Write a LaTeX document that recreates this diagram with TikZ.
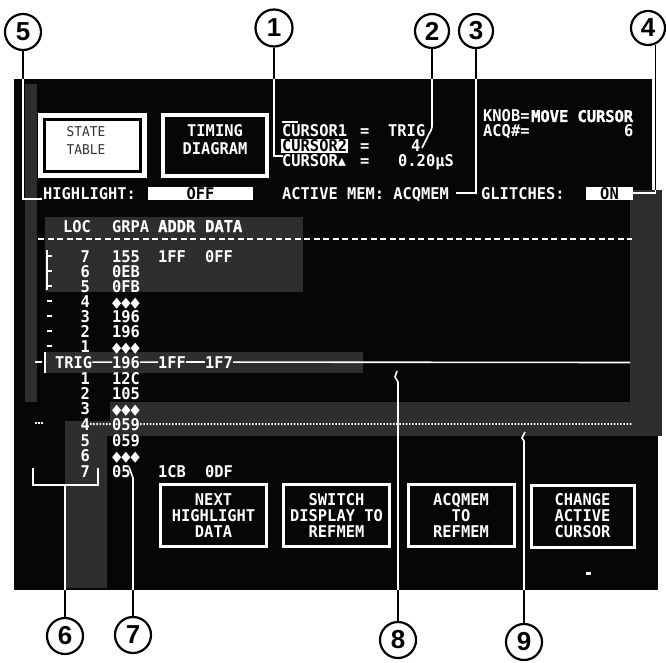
\documentclass[tikz,border=0pt]{standalone}
\usepackage{fontspec}
\newfontfamily\crt[FakeStretch=0.95]{DejaVu Sans Mono}
\newfontfamily\crtbb[FakeStretch=0.95,FakeBold=1.5]{DejaVu Sans Mono}
\newfontfamily\symf{DejaVu Sans}
\newfontfamily\calf{Liberation Sans}
\definecolor{scr}{HTML}{060606}
\definecolor{gry}{HTML}{2E2E2E}
\newcommand\dia{\scalebox{0.74}[0.9]{\symf\mdseries ◆◆◆}}
\newcommand{\calloutpaths}[1]{%
  \draw[#1] (c1.south) |- (p1);
  \draw[#1] (c2.south) -- (q2a) to[out=-100,in=70] (q2b) -- (p2);
  \draw[#1] (c3.south) |- (p3);
  \draw[#1] (c4.-66) |- (p4);
  \draw[#1] (c5.south) |- (p5);
  \draw[#1] (c6.north) -- (p6);
  \draw[#1] (c7.north) -- (q7) -- (p7);
  \draw[#1] (c8.north) -- (q8) -- (q8b) -- (p8);
  \draw[#1] (c9.north) -- (q9) -- (q9b) -- (p9);
}
\begin{document}
\begin{tikzpicture}[x=1pt,y=-1pt,
  crtf/.style={font={\crt\bfseries\fontsize{16.2}{16}\selectfont}},
  crt/.style={crtf, text=white, inner sep=0pt, anchor=base west},
  crtr/.style={crt, anchor=base east},
  hib/.style={font={\crtbb\bfseries\fontsize{16.2}{16}\selectfont}},
  btn/.style={draw=white, line width=3pt, fill=scr, text=white, crtf, align=center, inner sep=0pt, minimum width=106pt, minimum height=62pt},
  callc/.style={circle, draw=black, line width=2.2pt, fill=white, inner sep=0pt, minimum size=35pt, font={\calf\bfseries\fontsize{26}{26}\selectfont}},
  wl/.style={draw=white, line width=1.6pt},
  tick/.style={draw=white, line width=1.5pt},
  dotl/.style={draw=white, line width=1.8pt, dash pattern=on 1.5pt off 1.7pt},
]
\useasboundingbox (0,0) rectangle (666,663);
\fill[white] (0,0) rectangle (666,663);
% screen
\fill[scr] (14,79) rectangle (652,590);
\fill[scr] (652,436) rectangle (658,590);
\fill[gry] (25,84) rectangle (37,402);
\fill[gry] (45,217) rectangle (303,292);
\fill[gry] (45,352) rectangle (363,373);
\fill[gry] (110,402) rectangle (662,436);
\fill[gry] (65,421) rectangle (110,436);
\fill[gry] (65,436) rectangle (107,588);
\fill[gry] (630,190) rectangle (662,402);

% top buttons
\node[draw=white, line width=5pt, fill=white, minimum width=104pt, minimum height=60pt, inner sep=0pt] (st) at (92.5,145.5) {};
\draw[black, line width=2.5pt] (44.5,119.5) rectangle (140.5,171.5);
\node[font={\crt\fontsize{13.5}{18}\selectfont}, text=black!80, align=center, inner sep=0pt] (stt) at (86,140) {STATE\\TABLE};
\node[btn, line width=3.5pt, minimum width=104pt, minimum height=61pt] (td) at (215,145.5) {};
\node[font={\crt\bfseries\fontsize{16.2}{18}\selectfont}, text=white, align=center, inner sep=0pt] (tdt) at (215,140) {TIMING\\DIAGRAM};

% cursor block
\draw[tick] (282,122) -- (298,122);
\node[crt] (cu1) at (282,137) {CURSOR1};
\node[crt] (eq1) at (360,137) {=};
\node[crt] (trg) at (388,137) {TRIG};
\node[crt, fill=white, text=black, inner sep=1pt] (cu2) at (281,152) {CURSOR2};
\node[crt] (eq2) at (360,152) {=};
\node[crt] (v2) at (411,152) {4};
\node[crt] (cu3) at (282,167) {CURSOR{\symf\mdseries ▴}};
\node[crt] (eq3) at (360,167) {=};
\node[crt] (v3) at (398,167) {0.20µS};

\node[crt] (knob) at (483,122) {KNOB=};
\node[crt, hib] (knv) at (531,122) {MOVE CURSOR};
\node[crt] (acq) at (483,137) {ACQ\#=};
\node[crt] (acqv) at (624,137) {6};

% status line
\node[crt] (hl) at (43,200) {HIGHLIGHT:};
\node[fill=white, text=black, minimum width=105pt, minimum height=13pt, inner sep=0pt, crtf] (off) at (200.5,193.5) {OFF};
\node[crt] (am) at (282,200) {ACTIVE MEM: ACQMEM};
\node[crt] (gl) at (481,200) {GLITCHES:};
\node[fill=white, text=black, minimum width=47pt, minimum height=13pt, inner sep=0pt, crtf] (on) at (609.5,193.5) {ON\hspace{8pt}};

% table header
\node[crt] (hloc) at (63,232) {LOC};
\node[crt] (hgrp) at (112,232) {GRPA};
\node[crt, hib] (hadr) at (158,232) {ADDR};
\node[crt, hib] (hdat) at (205,232) {DATA};
\draw[draw=white, line width=1.6pt, dash pattern=on 6pt off 3.5pt] (38,239) -- (632,239);

% upper rows
\foreach \n/\v/\y in {7/155/262, 6/0EB/277, 5/0FB/292, 4/\dia/307, 3/196/322, 2/196/337, 1/\dia/352} {
  \node[crtr] (ul\n) at (90,\y) {\n};
  \node[crt] (ug\n) at (112,\y) {\v};
  \draw[tick] (47,\y-6) -- (52,\y-6);
}
\draw[tick] (47,250) -- (47,290);
\node[crt] (ua7) at (158,262) {1FF};
\node[crt] (ud7) at (205,262) {0FF};

% trigger row
\draw[tick] (35,362) -- (42,362);
\draw[draw=white, line width=1.2pt] (45,352) -- (45,373);
\node[crt] (tl) at (55,368) {TRIG};
\node[crt] (tg) at (112,368) {196};
\node[crt] (ta) at (158,368) {1FF};
\node[crt] (td2) at (205,368) {1F7};
\coordinate (tend) at (630,362.5);
\draw[wl] (tl.east) -- (tg.west);
\draw[wl] (tg.east) -- (ta.west);
\draw[wl] (ta.east) -- (td2.west);
\draw[wl] (td2.east) -- (tend);

% lower rows
\foreach \n/\v/\y in {1/12C/384, 2/105/399, 3/\dia/414, 4/059/430, 5/059/446, 6/\dia/461, 7/05/477} {
  \node[crtr] (ll\n) at (90,\y) {\n};
  \node[crt] (lg\n) at (112,\y) {\v};
}
\node[crt] (la7) at (158,477) {1CB};
\node[crt] (ld7) at (205,477) {0DF};
\coordinate (dend) at (632,424);
\draw[dotl] (ll4.east) -- (lg4.west);
\draw[dotl] (lg4.east) -- (dend);
\draw[dotl] (35,423) -- (43,423);

% bracket 6
\draw[tick] (33,468) -- (33,485) -- (98,485) -- (98,468);

% bottom buttons
\node[btn] (b1) at (213.5,515.5) {NEXT\\HIGHLIGHT\\DATA};
\node[btn] (b2) at (336.5,515.5) {SWITCH\\DISPLAY TO\\REFMEM};
\node[btn] (b3) at (461,515.5) {ACQMEM\\TO\\REFMEM};
\node[btn, minimum width=103pt] (b4) at (582.5,516) {CHANGE\\ACTIVE\\CURSOR};
\fill[white] (586,572) rectangle (591,574.5);

% callout circles
\node[callc, minimum size=37pt] (c1) at (274,28) {1};
\node[callc, minimum size=34pt] (c2) at (432,31) {2};
\node[callc, minimum size=34pt] (c3) at (476,31) {3};
\node[callc, minimum size=34pt] (c4) at (648,28) {4};
\node[callc, minimum size=36pt] (c5) at (23,32) {5};
\node[callc, minimum size=36pt] (c6) at (65,636) {6};
\node[callc, minimum size=36pt] (c7) at (133,635) {7};
\node[callc, minimum size=36pt] (c8) at (398,640) {8};
\node[callc, minimum size=36pt] (c9) at (524,642) {9};

% callout end points
\coordinate (p1) at (283,156);
\coordinate (q2a) at (432,127);
\coordinate (q2b) at (427,138);
\coordinate (p2) at (422,148);
\coordinate (p3) at (456,193);
\coordinate (p4) at (629,193);
\coordinate (p5) at (42,199);
\coordinate (p6) at (65,485);
\coordinate (q7) at (133,478);
\coordinate (p7) at (129,467);
\coordinate (q8) at (398,382);
\coordinate (q8b) at (395,377);
\coordinate (p8) at (397,371);
\coordinate (q9) at (524,441);
\coordinate (q9b) at (522,438);
\coordinate (p9) at (525,432);

\calloutpaths{draw=black, line width=1.6pt}
\begin{scope}
  \clip (14,79) rectangle (652,590) (630,190) rectangle (662,436) (652,436) rectangle (658,590);
  \calloutpaths{wl}
\end{scope}
\end{tikzpicture}
\end{document}
